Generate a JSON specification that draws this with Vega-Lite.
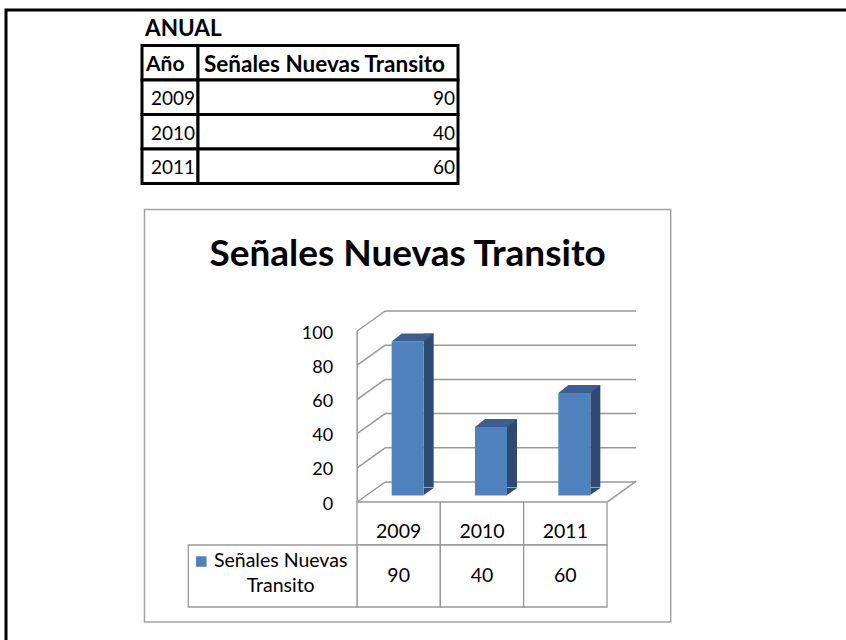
{
  "$schema": "https://vega.github.io/schema/vega-lite/v6.json",
  "width": 846,
  "height": 640,
  "autosize": {"type": "fit", "contains": "padding"},
  "padding": {"left": 6, "top": 10, "right": -30, "bottom": -30},
  "background": "white",
  "view": {"stroke": "black", "strokeWidth": 3, "fill": "white"},
  "datasets": {
    "anual": [
      {"anio": "2009", "senales": 90},
      {"anio": "2010", "senales": 40},
      {"anio": "2011", "senales": 60}
    ],
    "tabla": [
      {"fila": "Año", "columna": "Año", "texto": "Año"},
      {"fila": "Año", "columna": "Señales Nuevas Transito", "texto": "Señales Nuevas Transito"},
      {"fila": "2009", "columna": "Año", "texto": "2009"},
      {"fila": "2009", "columna": "Señales Nuevas Transito", "texto": "90"},
      {"fila": "2010", "columna": "Año", "texto": "2010"},
      {"fila": "2010", "columna": "Señales Nuevas Transito", "texto": "40"},
      {"fila": "2011", "columna": "Año", "texto": "2011"},
      {"fila": "2011", "columna": "Señales Nuevas Transito", "texto": "60"}
    ],
    "rejilla": [{"v": 0}, {"v": 20}, {"v": 40}, {"v": 60}, {"v": 80}, {"v": 100}],
    "grafico": [{"titulo": "Señales Nuevas Transito"}],
    "serie": [{"serie": "Señales Nuevas Transito", "etiqueta": "Señales Nuevas\nTransito"}]
  },
  "resolve": {"scale": {"x": "independent", "y": "independent"}},
  "layer": [
    {
      "data": {"name": "tabla"},
      "transform": [{"filter": "datum.columna === 'Año'"}],
      "encoding": {
        "x": {"field": "columna", "type": "nominal", "scale": {"domain": ["Año"], "range": [136, 192], "paddingInner": 0, "paddingOuter": 0}, "axis": null},
        "y": {"field": "fila", "type": "nominal", "scale": {"domain": ["Año", "2009", "2010", "2011"], "range": [35.5, 173.5], "paddingInner": 0, "paddingOuter": 0}, "axis": null}
      },
      "layer": [
        {"mark": {"type": "rect", "fill": "white", "stroke": "black", "strokeWidth": 3}},
        {
          "transform": [{"filter": "datum.fila === 'Año'"}],
          "mark": {"type": "text", "font": "Lato", "fontWeight": "bold", "fontSize": 21, "align": "left", "baseline": "middle", "dx": 4, "dy": 2, "fill": "black"},
          "encoding": {"x": {"field": "columna", "type": "nominal", "bandPosition": 0, "axis": null}, "text": {"field": "texto"}}
        },
        {
          "transform": [{"filter": "datum.fila === 'Año'"}],
          "mark": {"type": "text", "font": "Lato", "fontWeight": "bold", "fontSize": 22.5, "align": "left", "baseline": "bottom", "dx": 3, "dy": -5, "fill": "black", "text": "ANUAL"},
          "encoding": {"x": {"field": "columna", "type": "nominal", "bandPosition": 0, "axis": null}, "y": {"field": "fila", "type": "nominal", "bandPosition": 0, "axis": null}}
        },
        {
          "transform": [{"filter": "datum.fila !== 'Año'"}],
          "mark": {"type": "text", "font": "Lato", "fontSize": 19, "align": "right", "baseline": "middle", "dx": -3, "dy": 2, "fill": "black"},
          "encoding": {"x": {"field": "columna", "type": "nominal", "bandPosition": 1, "axis": null}, "text": {"field": "texto"}}
        }
      ]
    },
    {
      "data": {"name": "tabla"},
      "transform": [{"filter": "datum.columna !== 'Año'"}],
      "encoding": {
        "x": {"field": "columna", "type": "nominal", "scale": {"domain": ["Señales Nuevas Transito"], "range": [192, 452], "paddingInner": 0, "paddingOuter": 0}, "axis": null},
        "y": {"field": "fila", "type": "nominal", "scale": {"domain": ["Año", "2009", "2010", "2011"], "range": [35.5, 173.5], "paddingInner": 0, "paddingOuter": 0}, "axis": null}
      },
      "layer": [
        {"mark": {"type": "rect", "fill": "white", "stroke": "black", "strokeWidth": 3}},
        {
          "transform": [{"filter": "datum.fila === 'Año'"}],
          "mark": {"type": "text", "font": "Lato", "fontWeight": "bold", "fontSize": 22.5, "align": "left", "baseline": "middle", "dx": 6, "dy": 2, "fill": "black"},
          "encoding": {"x": {"field": "columna", "type": "nominal", "bandPosition": 0, "axis": null}, "text": {"field": "texto"}}
        },
        {
          "transform": [{"filter": "datum.fila !== 'Año'"}],
          "mark": {"type": "text", "font": "Lato", "fontSize": 19, "align": "right", "baseline": "middle", "dx": -3, "dy": 2, "fill": "black"},
          "encoding": {"x": {"field": "columna", "type": "nominal", "bandPosition": 1, "axis": null}, "text": {"field": "texto"}}
        }
      ]
    },
    {
      "data": {"name": "grafico"},
      "encoding": {
        "x": {"field": "titulo", "type": "nominal", "scale": {"range": [138.5, 664.7], "paddingInner": 0, "paddingOuter": 0}, "axis": null},
        "y": {"field": "titulo", "type": "nominal", "scale": {"range": [199.5, 612], "paddingInner": 0, "paddingOuter": 0}, "axis": null}
      },
      "layer": [
        {"mark": {"type": "rect", "fill": "white", "stroke": "#a3a3a3", "strokeWidth": 1.5}},
        {
          "mark": {"type": "text", "font": "Lato", "fontWeight": "bold", "fontSize": 37, "align": "center", "baseline": "middle", "dy": 45.5, "fill": "black"},
          "encoding": {"y": {"field": "titulo", "type": "nominal", "bandPosition": 0, "axis": null}, "text": {"field": "titulo"}}
        }
      ]
    },
    {
      "data": {"name": "anual"},
      "encoding": {
        "x": {"field": "anio", "type": "nominal", "scale": {"domain": ["2009", "2010", "2011"], "range": [351, 601], "paddingInner": 0, "paddingOuter": 0}, "axis": null}
      },
      "layer": [
        {
          "data": {"name": "rejilla"},
          "mark": {"type": "tick", "orient": "horizontal", "color": "#999999", "thickness": 1.5, "size": 251, "xOffset": 28.5, "yOffset": -20, "opacity": 1},
          "encoding": {
            "x": {"datum": "2010", "type": "nominal"},
            "y": {"field": "v", "type": "quantitative", "scale": {"domain": [0, 100], "range": [492, 321], "nice": false, "zero": true}, "axis": null}
          }
        },
        {
          "data": {"name": "rejilla"},
          "mark": {"type": "point", "shape": "M-1,0.714L1,-0.714", "size": 784, "filled": false, "stroke": "#999999", "strokeWidth": 1.5, "opacity": 1, "xOffset": -27.5, "yOffset": -10},
          "encoding": {
            "x": {"datum": "2009", "type": "nominal"},
            "y": {"field": "v", "type": "quantitative", "axis": null}
          }
        },
        {
          "data": {"name": "rejilla"},
          "mark": {"type": "rule", "color": "#999999", "strokeWidth": 1.5, "xOffset": -41.5},
          "encoding": {
            "x": {"datum": "2009", "type": "nominal"},
            "y": {"aggregate": "min", "field": "v", "type": "quantitative", "axis": null},
            "y2": {"aggregate": "max", "field": "v"}
          }
        },
        {
          "data": {"name": "rejilla"},
          "transform": [{"filter": "datum.v === 0"}],
          "mark": {"type": "point", "shape": "M-1,0.714L1,-0.714", "size": 841, "filled": false, "stroke": "#999999", "strokeWidth": 1.5, "opacity": 1, "xOffset": 56.5, "yOffset": -10.5},
          "encoding": {
            "x": {"datum": "2011", "type": "nominal"},
            "y": {"field": "v", "type": "quantitative", "axis": null}
          }
        },
        {
          "data": {"name": "rejilla"},
          "mark": {"type": "text", "font": "Lato", "fontSize": 18, "align": "right", "baseline": "middle", "xOffset": -65.5, "dy": 2.5, "fill": "black"},
          "encoding": {
            "x": {"datum": "2009", "type": "nominal"},
            "y": {"field": "v", "type": "quantitative", "axis": null},
            "text": {"field": "v", "type": "quantitative"}
          }
        },
        {
          "mark": {"type": "bar", "width": 10, "xOffset": 30, "yOffset": -14.5, "y2Offset": -14, "color": "#2d4a72"},
          "encoding": {"y": {"field": "senales", "type": "quantitative", "axis": null}}
        },
        {
          "mark": {"type": "point", "shape": "M-1,-0.7L1,-0.7L-1,0.7Z", "size": 100, "filled": true, "color": "#2d4a72", "opacity": 1, "strokeWidth": 0, "xOffset": 30, "yOffset": -10.5},
          "encoding": {"y": {"datum": 0, "type": "quantitative", "axis": null}}
        },
        {
          "mark": {"type": "bar", "width": 32, "xOffset": 9, "yOffset": -6.5, "y2Offset": -7, "color": "#4f81bd"},
          "encoding": {"y": {"field": "senales", "type": "quantitative", "axis": null}}
        },
        {
          "mark": {"type": "point", "shape": "M-1,0.19L0.524,0.19L1,-0.19L-0.524,-0.19Z", "size": 1764, "filled": true, "color": "#3c5f8f", "opacity": 1, "strokeWidth": 0, "xOffset": 14, "yOffset": -10.5},
          "encoding": {"y": {"field": "senales", "type": "quantitative", "axis": null}}
        }
      ]
    },
    {
      "data": {"name": "anual"},
      "encoding": {
        "x": {"field": "anio", "type": "nominal", "scale": {"domain": ["2009", "2010", "2011"], "range": [351, 601], "paddingInner": 0, "paddingOuter": 0}, "axis": null},
        "y": {"datum": "Año", "type": "nominal", "scale": {"domain": ["Año"], "range": [492, 535], "paddingInner": 0, "paddingOuter": 0}, "axis": null}
      },
      "layer": [
        {"mark": {"type": "rect", "fill": "white", "stroke": "#999999", "strokeWidth": 1.3}},
        {
          "mark": {"type": "text", "font": "Lato", "fontSize": 19.5, "align": "center", "baseline": "middle", "dy": 8, "fill": "black"},
          "encoding": {"text": {"field": "anio"}}
        }
      ]
    },
    {
      "data": {"name": "anual"},
      "encoding": {
        "x": {"field": "anio", "type": "nominal", "scale": {"domain": ["2009", "2010", "2011"], "range": [351, 601], "paddingInner": 0, "paddingOuter": 0}, "axis": null},
        "y": {"datum": "Señales Nuevas Transito", "type": "nominal", "scale": {"domain": ["Señales Nuevas Transito"], "range": [535, 597], "paddingInner": 0, "paddingOuter": 0}, "axis": null}
      },
      "layer": [
        {"mark": {"type": "rect", "fill": "white", "stroke": "#999999", "strokeWidth": 1.3}},
        {
          "mark": {"type": "text", "font": "Lato", "fontSize": 19.5, "align": "center", "baseline": "middle", "fill": "black"},
          "encoding": {"text": {"field": "senales", "type": "quantitative"}}
        }
      ]
    },
    {
      "data": {"name": "serie"},
      "encoding": {
        "x": {"field": "serie", "type": "nominal", "scale": {"range": [182.3, 351], "paddingInner": 0, "paddingOuter": 0}, "axis": null},
        "y": {"field": "serie", "type": "nominal", "scale": {"range": [535, 597], "paddingInner": 0, "paddingOuter": 0}, "axis": null}
      },
      "layer": [
        {"mark": {"type": "rect", "fill": "white", "stroke": "#999999", "strokeWidth": 1.3}},
        {
          "mark": {"type": "point", "shape": "square", "size": 110, "filled": true, "color": "#4f81bd", "opacity": 1, "strokeWidth": 0, "xOffset": 13, "yOffset": 16.5},
          "encoding": {
            "x": {"field": "serie", "type": "nominal", "bandPosition": 0, "axis": null},
            "y": {"field": "serie", "type": "nominal", "bandPosition": 0, "axis": null}
          }
        },
        {
          "mark": {"type": "text", "font": "Lato", "fontSize": 19.5, "align": "center", "baseline": "middle", "lineBreak": "\n", "lineHeight": 25, "dx": 8, "dy": -15, "fill": "black"},
          "encoding": {"text": {"field": "etiqueta"}}
        }
      ]
    }
  ]
}
